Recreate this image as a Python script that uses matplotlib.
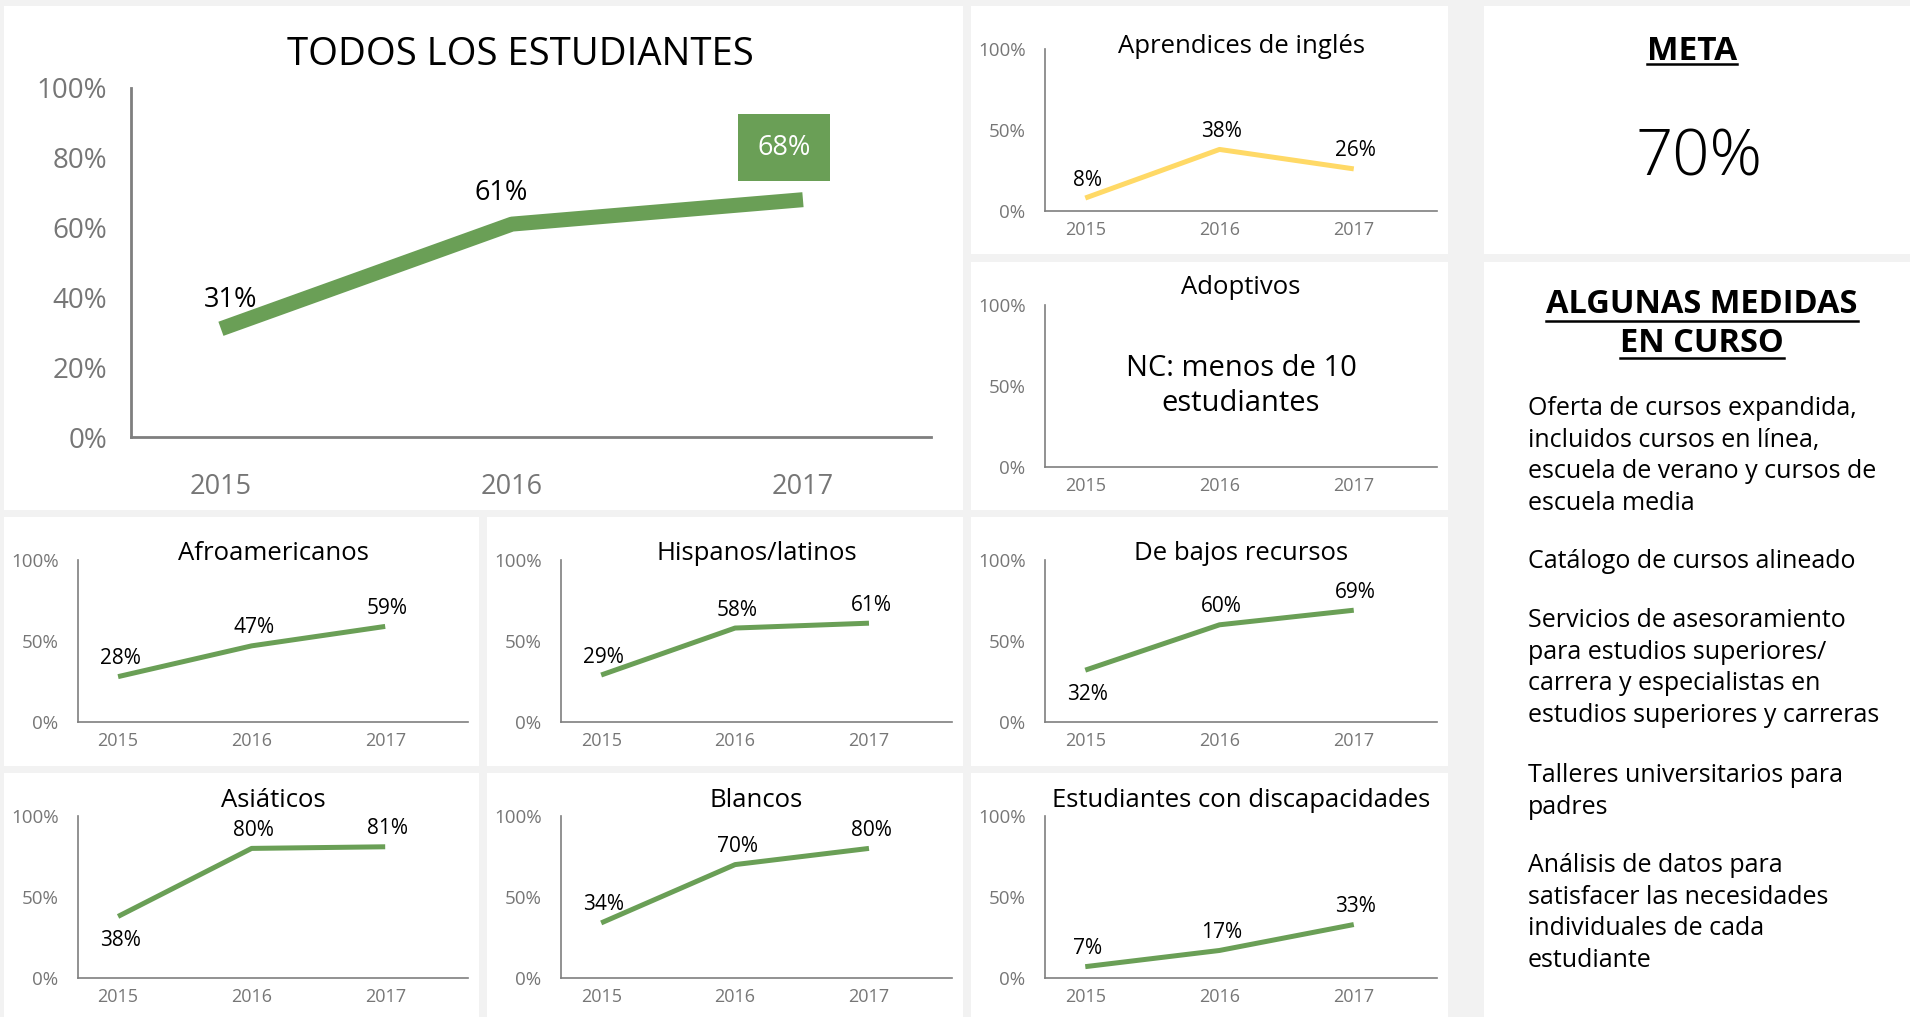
import matplotlib.pyplot as plt
from matplotlib.patches import Rectangle
from matplotlib.lines import Line2D

plt.rcParams['font.family'] = ['Open Sans', 'DejaVu Sans']

W, H = 1910, 1017

years = ['2015', '2016', '2017']

# porcentaje de estudiantes por año
todos = [31, 61, 68]
aprendices = [8, 38, 26]
afroamericanos = [28, 47, 59]
hispanos = [29, 58, 61]
bajos_recursos = [32, 60, 69]
asiaticos = [38, 80, 81]
blancos = [34, 70, 80]
discapacidades = [7, 17, 33]

meta = 70

medidas = [
    ['Oferta de cursos expandida,', 'incluidos cursos en línea,',
     'escuela de verano y cursos de', 'escuela media'],
    ['Catálogo de cursos alineado'],
    ['Servicios de asesoramiento', 'para estudios superiores/',
     'carrera y especialistas en', 'estudios superiores y carreras'],
    ['Talleres universitarios para', 'padres'],
    ['Análisis de datos para', 'satisfacer las necesidades',
     'individuales de cada', 'estudiante'],
]

GREEN = '#6a9f56'
YELLOW = '#ffd966'
GRAY = '#7f7f7f'
TICK = '#767676'
BG = '#f2f2f2'

fig = plt.figure(figsize=(W / 100, H / 100), dpi=100)
fig.patch.set_facecolor(BG)


def fx(x):
    return x / W


def fy(y):
    return 1 - y / H


def panel(x0, y0, x1, y1):
    fig.add_artist(Rectangle((fx(x0), fy(y1)), fx(x1 - x0), (y1 - y0) / H,
                             transform=fig.transFigure, facecolor='white',
                             edgecolor='none', zorder=0))


def make_axes(x0, y0, x1, y1):
    ax = fig.add_axes([fx(x0), fy(y1), fx(x1 - x0), (y1 - y0) / H])
    ax.set_facecolor('none')
    for s in ['top', 'right']:
        ax.spines[s].set_visible(False)
    return ax


# columnas y filas del tablero (px)
cols = [(4, 479), (487, 963), (971, 1448)]
rows = [(6, 254), (262, 510), (517, 766), (773, 1025)]
title_base = [47, 32, 43, 34]

# --- gráfico principal ---
panel(4, 6, 963, 510)
ax = make_axes(131, 88, 931, 437)
ax.plot(range(3), todos, color=GREEN, lw=10.8, solid_capstyle='butt')
ax.set_xlim(-0.309, 2.44)
ax.set_ylim(0, 100)
ax.set_yticks([0, 20, 40, 60, 80, 100])
ax.set_yticklabels(['%d%%' % v for v in range(0, 101, 20)])
ax.set_xticks(range(3))
ax.set_xticklabels(years)
ax.tick_params(length=0, labelsize=19.5, colors=TICK)
ax.tick_params(axis='y', labelsize=20, pad=17)
ax.tick_params(axis='x', pad=26)
for s in ['left', 'bottom']:
    ax.spines[s].set_color(GRAY)
    ax.spines[s].set_linewidth(2.0)
main_offsets = [(10, 29), (-11, 31)]
for i, v in enumerate(todos[:2]):
    ax.annotate('%d%%' % v, (i, v), xytext=main_offsets[i], textcoords='offset pixels',
                ha='center', va='center', fontsize=19.5, color='black')
ax.annotate('%d%%' % todos[2], (2, todos[2]), xytext=(-19, 52), textcoords='offset pixels',
            ha='center', va='center', fontsize=19.5, color='white',
            bbox=dict(boxstyle='square,pad=0.72', facecolor=GREEN, edgecolor='none'))
fig.text(fx(520), fy(65), 'TODOS LOS ESTUDIANTES', ha='center', va='baseline',
         fontsize=27.5, color='black')


# --- gráficos pequeños ---
def small_chart(col, row, title, vals=None, color=GREEN, below=(), note=None):
    x0, x1 = cols[col]
    y0, y1 = rows[row]
    panel(x0, y0, x1, y1)
    ax_l, ax_r = x0 + 74, x1 - 11
    ax_t = y0 + 43
    ax_b = ax_t + 162
    ax = make_axes(ax_l, ax_t, ax_r, ax_b)
    ax.set_xlim(-0.30, 2.62)
    ax.set_ylim(0, 100)
    ax.set_yticks([0, 50, 100])
    ax.set_yticklabels(['0%', '50%', '100%'])
    ax.set_xticks(range(3))
    ax.set_xticklabels(years)
    ax.tick_params(length=0, labelsize=13, colors=TICK)
    ax.tick_params(axis='y', labelsize=13.5, pad=14)
    ax.tick_params(axis='x', pad=7)
    for s in ['left', 'bottom']:
        ax.spines[s].set_color(GRAY)
        ax.spines[s].set_linewidth(1.2)
    if vals is not None:
        ax.plot(range(3), vals, color=color, lw=3.6, solid_capstyle='butt')
        for i, v in enumerate(vals):
            dy = -24 if i in below else 18
            ax.annotate('%d%%' % v, (i, v), xytext=(2, dy), textcoords='offset pixels',
                        ha='center', va='center', fontsize=15, color='black')
    if note:
        ax.text(1.16, 50, note, ha='center', va='center',
                fontsize=21, color='black', linespacing=1.3)
    fig.text(fx((ax_l + ax_r) / 2), fy(y0 + title_base[row]), title,
             ha='center', va='baseline', fontsize=18.5, color='black')


small_chart(2, 0, 'Aprendices de inglés', aprendices, color=YELLOW)
small_chart(2, 1, 'Adoptivos', note='NC: menos de 10\nestudiantes')
small_chart(0, 2, 'Afroamericanos', afroamericanos)
small_chart(1, 2, 'Hispanos/latinos', hispanos)
small_chart(2, 2, 'De bajos recursos', bajos_recursos, below=(0,))
small_chart(0, 3, 'Asiáticos', asiaticos, below=(0,))
small_chart(1, 3, 'Blancos', blancos)
small_chart(2, 3, 'Estudiantes con discapacidades', discapacidades)

# --- columna derecha ---
panel(1484, 6, 1910, 254)
panel(1484, 262, 1910, 1025)

headers = []
headers.append(fig.text(fx(1692), fy(60), 'META', ha='center', va='baseline',
                        fontsize=24, fontweight='bold'))
fig.text(fx(1699), fy(175), '%d%%' % meta, ha='center', va='baseline', fontsize=47,
         fontweight='light')
headers.append(fig.text(fx(1702), fy(313), 'ALGUNAS MEDIDAS', ha='center', va='baseline',
                        fontsize=23.5, fontweight='bold'))
headers.append(fig.text(fx(1702), fy(352), 'EN CURSO', ha='center', va='baseline',
                        fontsize=23.5, fontweight='bold'))

para_base = [415, 568, 627, 782, 872]
step = 31.7
for base, lines in zip(para_base, medidas):
    for k, line in enumerate(lines):
        fig.text(fx(1528), fy(base + k * step), line, ha='left', va='baseline',
                 fontsize=18, color='black')

# subrayado de los encabezados
fig.canvas.draw()
r = fig.canvas.get_renderer()
for t, uy in zip(headers, [64, 321, 358]):
    bb = t.get_window_extent(r)
    fig.add_artist(Line2D([bb.x0 / W, bb.x1 / W], [fy(uy), fy(uy)],
                          transform=fig.transFigure, color='black', lw=1.8))

fig.savefig('out.png', dpi=100, facecolor=BG)
